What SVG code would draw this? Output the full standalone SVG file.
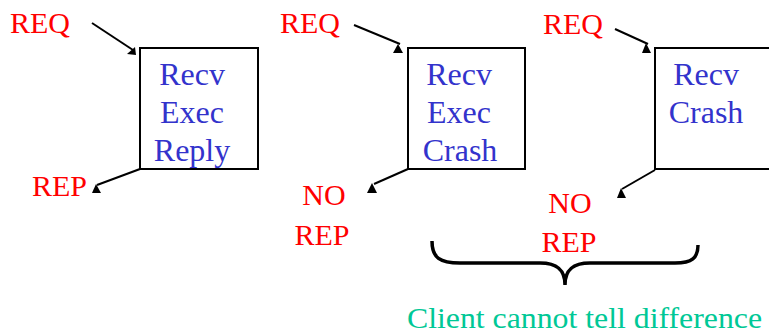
<svg xmlns="http://www.w3.org/2000/svg" width="769" height="335" viewBox="0 0 769 335">
<style>
.box{fill:#fff;stroke:#000;stroke-width:2}
.t{font-family:"Liberation Serif","Times New Roman",serif;font-size:30px}
.blue{fill:#3333cc;text-anchor:middle;font-size:32px}
.red{fill:#ff0000}
.mid{text-anchor:middle}
.ln{stroke:#000;stroke-width:2;fill:none}
.ah{fill:#000}
.green{fill:#00c896;font-size:30px}
</style>
<rect width="769" height="335" fill="#fff"/>
<g id="node1">
<rect class="box" x="140" y="48" width="118" height="121"/>
<text class="t blue" x="192" y="85">Recv</text>
<text class="t blue" x="192" y="123">Exec</text>
<text class="t blue" x="192" y="161">Reply</text>
</g>
<g id="node2">
<rect class="box" x="408" y="48" width="117" height="121"/>
<text class="t blue" x="459" y="85">Recv</text>
<text class="t blue" x="459" y="123">Exec</text>
<text class="t blue" x="460" y="161">Crash</text>
</g>
<g id="node3">
<rect class="box" x="655" y="48" width="120" height="121"/>
<text class="t blue" x="706" y="85">Recv</text>
<text class="t blue" x="706" y="123">Crash</text>
</g>
<g id="labels">
<text class="t red" x="10" y="33">REQ</text>
<text class="t red" x="280" y="33">REQ</text>
<text class="t red" x="543" y="34">REQ</text>
<text class="t red" x="32" y="196">REP</text>
<text class="t red mid" x="324" y="205">NO</text>
<text class="t red mid" x="322" y="245">REP</text>
<text class="t red mid" x="570" y="213">NO</text>
<text class="t red mid" x="569" y="252">REP</text>
<text class="t green" x="407" y="328" textLength="355" lengthAdjust="spacingAndGlyphs">Client cannot tell difference</text>
</g>
<g id="connectors">
<line class="ln" x1="92" y1="23" x2="133" y2="50"/>
<polygon class="ah" points="135,47 136,55 127,54"/>
<line class="ln" x1="354" y1="25" x2="400" y2="44"/>
<polygon class="ah" points="398,44 403,53 393,53"/>
<line class="ln" x1="615" y1="29" x2="648" y2="44"/>
<polygon class="ah" points="646,43 651,53 642,53"/>
<line class="ln" x1="140" y1="169" x2="97" y2="185"/>
<polygon class="ah" points="96,184 101,193 92,193"/>
<line class="ln" x1="408" y1="169" x2="374" y2="184"/>
<polygon class="ah" points="372,183 377,193 367,193"/>
<line class="ln" x1="655" y1="170" x2="622" y2="189"/>
<polygon class="ah" points="621,188 626,198 617,198"/>
<path d="M432,241 C432,258 440,263 460,263 L540,263 C555,263 565,268 565,285 C565,268 575,263 590,263 L675,263 C692,263 698,258 698,245" fill="none" stroke="#000" stroke-width="3.5"/>
</g>
</svg>
